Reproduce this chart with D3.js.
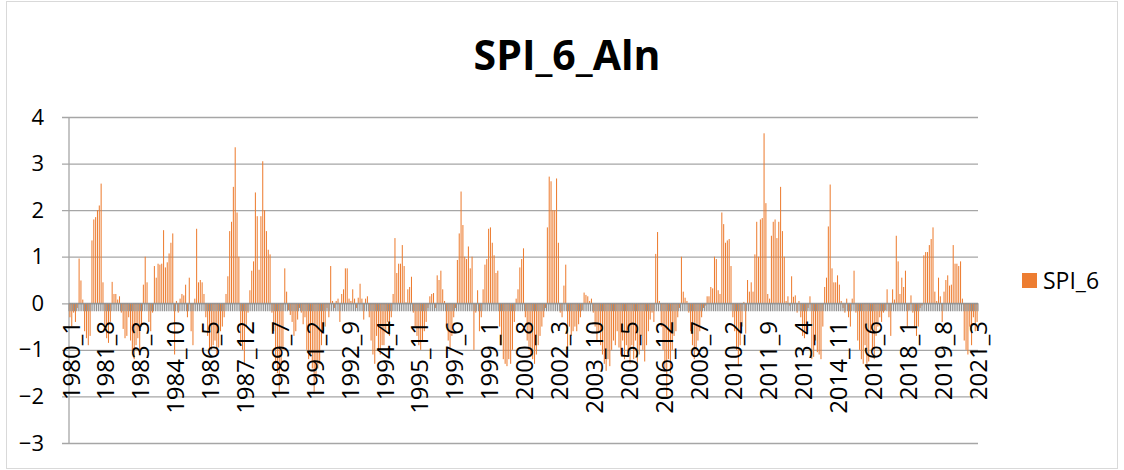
<!DOCTYPE html>
<html>
<head>
<meta charset="utf-8">
<script src="https://cdn.jsdelivr.net/npm/d3@7"></script>
<style>
  body { margin: 0; background: #fff; }
  svg { font-family: "Open Sans", "Noto Sans", sans-serif; }
</style>
</head>
<body>
<svg id="chart" width="1124" height="470"></svg>
<script>
// monthly SPI_6 values, 1980_1 .. 2021_3 (one row per 19 months)
var spi6 = [
  -0.3, -0.5, -0.2, -0.4, -0.1, 0.96, 0.49, 0.08, -0.6, -0.75, -0.9, -0.7, 1.35, 1.8, 1.85, 2.0, 2.1, 2.57, 0.45,
  -0.5, -0.75, -0.85, -0.4, 0.46, 0.2, 0.2, 0.08, 0.15, -0.2, -0.55, -0.75, -0.7, -0.3, -0.8, -1.0, -1.2, -0.9, -0.75,
  -1.1, -0.5, 0.4, 1.0, 0.45, -0.4, -0.6, -0.2, 0.8, 0.55, 0.85, 0.83, 0.85, 1.57, 0.77, 0.88, 1.07, 1.3, 1.5,
  -1.1, 0.05, -0.2, 0.1, 0.2, 0.17, 0.4, -0.3, 0.55, -0.6, -0.9, 0.1, 1.6, 0.45, 0.5, 0.45, 0.2, -0.3, -0.7,
  -1.0, -1.0, -0.9, -0.8, -1.1, -0.95, -0.6, -0.5, -0.3, 0.2, 0.58, 1.55, 1.75, 2.5, 3.35, 1.95, 1.0, -0.9, -1.0,
  -1.3, -0.5, -0.2, 0.28, 0.7, 0.9, 2.38, 1.87, 0.72, 1.87, 3.05, 2.0, 1.55, 1.15, 1.05, -0.2, -0.6, -1.3, -1.5,
  -1.9, -1.4, -1.0, 0.75, 0.25, -0.15, -0.25, -0.4, -0.7, -0.6, -0.35, -0.1, -0.2, -0.45, -0.3, -1.0, -1.2, -1.1, -1.4,
  -1.9, -1.6, -1.4, -1.3, -0.9, -0.6, -0.5, -0.1, -0.3, 0.8, 0.05, -0.1, 0.05, 0.1, -0.4, 0.2, 0.3, 0.75, 0.75,
  0.1, 0.05, 0.3, 0.1, -0.1, 0.12, 0.42, 0.1, -0.35, 0.1, 0.15, -0.3, -0.8, -1.1, -1.3, -0.7, -1.0, -1.1, -0.9,
  -0.9, -0.6, -0.4, -0.7, -0.3, 0.2, 1.4, 0.65, 0.85, 0.85, 1.25, 0.8, 0.02, 0.3, 0.35, 0.57, -0.2, -0.5, -0.7,
  -0.9, -1.0, -0.8, -0.6, -0.4, -0.1, 0.15, 0.2, 0.22, -0.1, 0.6, 0.5, 0.7, 0.3, 0.05, -0.5, -0.8, -1.0, -0.7,
  -0.3, -0.1, 0.93, 1.5, 2.4, 1.68, 1.0, 0.95, 1.22, 0.75, 1.0, -1.0, -0.2, 0.28, -0.6, -0.3, 0.3, 0.83, 0.95,
  1.6, 1.63, 1.3, 1.03, 0.65, 0.7, -0.5, -0.9, -1.2, -1.3, -1.35, -1.2, -1.3, -1.0, -0.4, 0.1, 0.3, 0.77, 0.95,
  1.18, -0.3, -0.8, -1.0, -1.15, -1.2, -1.3, -1.1, -0.9, -0.7, -0.5, -0.3, -0.1, 1.63, 2.72, 2.62, 2.0, 2.0, 2.68,
  1.3, -0.2, -0.3, 0.38, 0.83, -1.0, -0.5, -0.7, -0.6, -0.5, -0.6, -0.45, -0.3, -0.15, 0.23, 0.18, 0.15, 0.05, 0.1,
  -0.2, -0.5, -0.8, -0.6, -0.9, -1.1, -1.3, -1.45, -1.2, -1.35, -1.0, -0.8, -0.9, -0.6, -0.95, -1.1, -0.8, -1.2, -0.9,
  -1.0, -1.3, -0.9, -1.2, -0.8, -1.3, -1.1, -0.7, -1.0, -1.25, -0.9, -0.6, -0.35, -0.2, -0.4, 1.06, 1.53, 0.05, -0.5,
  -1.0, -1.4, -2.0, -1.2, -1.5, -1.0, -0.7, -0.6, -0.3, -0.1, 1.0, 0.25, 0.12, 0.05, -0.2, -0.6, -0.9, -1.2, -1.0,
  -0.8, -0.6, -0.3, -0.1, -0.05, 0.15, 0.15, 0.35, 0.32, 1.0, 0.95, 0.28, 0.2, 1.95, 1.7, 1.3, 1.35, 1.38, 0.8,
  -0.3, -0.6, -1.0, -1.35, -0.9, -0.5, 0.03, -0.65, 0.5, 0.25, 0.45, 0.25, 1.05, 1.75, 1.0, 1.8, 1.83, 3.65, 2.15,
  0.2, 0.1, 1.45, 1.75, 1.8, 1.4, 1.75, 2.5, 1.55, 1.0, 0.05, 0.15, -0.05, 0.58, 0.14, 0.17, -0.2, 0.05, -0.3,
  -0.7, -0.75, -0.6, -0.1, 0.15, -1.2, -1.15, -0.8, -1.05, -1.1, -1.2, -0.5, 0.35, 0.55, 1.65, 2.55, 0.75, 0.45, 0.45,
  0.6, 0.4, 0.05, -0.1, -0.2, 0.1, -0.3, -0.5, 0.1, 0.7, -0.2, -0.8, -1.0, -1.2, -1.3, -0.9, -1.3, -1.25, -0.6,
  -1.0, -1.2, -0.7, -0.5, -0.3, -0.4, -0.2, -0.15, 0.3, -0.3, -0.7, 0.3, 0.08, 1.45, 0.9, 0.2, 0.55, 0.35, 0.7,
  -0.5, -0.15, 0.17, -0.2, -0.5, -0.7, -0.5, -0.1, -0.05, 1.03, 1.1, 1.1, 1.25, 1.38, 1.63, 0.25, 0.05, 0.55, 0.15,
  -0.4, 0.25, 0.5, 0.6, 0.38, 0.4, 1.25, 0.85, 0.85, 0.8, 0.9, 0.1, -0.8, -1.0, -1.1, -0.5, -0.9, -0.3, -0.6,
  -0.4
]

var startYear = 1980
var labelEvery = 19
var yTicks = [-3, -2, -1, 0, 1, 2, 3, 4]

// category names like 1980_1
var months = spi6.map(function(d, i) {
  return (startYear + Math.floor(i / 12)) + '_' + (i % 12 + 1)
})
var tickLabels = months.filter(function(d, i) { return i % labelEvery == 0 })

var svg = d3.select('#chart')

// chart border
svg.append('rect')
  .attr('x', 6.5).attr('y', 1.5)
  .attr('width', 1111).attr('height', 467)
  .attr('fill', 'none').attr('stroke', '#d9d9d9')

var left = 69, right = 978

var x = d3.scaleBand()
  .domain(months)
  .range([left, right])
  .padding(0)

var y = d3.scaleLinear()
  .domain([-3, 4])
  .range([443, 117])

// title
svg.append('text')
  .attr('x', 567).attr('y', 70)
  .attr('text-anchor', 'middle')
  .style('font-size', '41px').style('font-weight', 'bold')
  .text('SPI_6_Aln')

// gridlines + y labels
var yAxis = svg.append('g')
  .attr('transform', 'translate(' + (left - 7) + ',0)')
  .call(d3.axisLeft(y).tickValues(yTicks).tickSize(-(right - left + 7)).tickPadding(18).tickFormat(d3.format('d')))
yAxis.select('.domain').remove()
yAxis.selectAll('line').attr('stroke', '#a6a6a6').attr('stroke-width', 1.3)
yAxis.selectAll('text')
  .style('font-size', '22px').style('font-family', '"Open Sans", sans-serif')
  .attr('fill', '#000')

// value axis line
svg.append('line')
  .attr('x1', left).attr('x2', left)
  .attr('y1', y(4)).attr('y2', y(-3))
  .attr('stroke', '#a6a6a6').attr('stroke-width', 1.3)

// bars
var bw = x.bandwidth()
svg.append('g')
  .selectAll('rect')
  .data(spi6).enter().append('rect')
    .attr('x', function(d, i) { return x(months[i]) + bw * 0.22 })
    .attr('width', bw * 0.56)
    .attr('y', function(d) { return y(Math.max(0, d)) })
    .attr('height', function(d) { return Math.abs(y(d) - y(0)) })
    .attr('fill', '#ED7D31')

// category axis: line and one tick per month boundary
var axisG = svg.append('g')
axisG.append('line')
  .attr('x1', left).attr('x2', right)
  .attr('y1', y(0)).attr('y2', y(0))
  .attr('stroke', '#999').attr('stroke-width', 1.3)
axisG.selectAll('.tick')
  .data(d3.range(months.length + 1)).enter().append('line')
    .attr('class', 'tick')
    .attr('x1', function(i) { return left + i * bw })
    .attr('x2', function(i) { return left + i * bw })
    .attr('y1', y(0)).attr('y2', y(0) + 8)
    .attr('stroke', '#8f8f8f').attr('stroke-width', 1.1)

axisG.selectAll('.xlab')
  .data(tickLabels).enter().append('text')
    .attr('class', 'xlab')
    .attr('transform', function(d) {
      return 'translate(' + (x(d) + bw / 2 + 1) + ',321) rotate(-90)'
    })
    .attr('text-anchor', 'end')
    .attr('dy', '0.36em')
    .style('font-size', '24px')
    .text(function(d) { return d })

// legend
svg.append('rect')
  .attr('x', 1022).attr('y', 273)
  .attr('width', 15).attr('height', 15)
  .attr('fill', '#ED7D31')
svg.append('text')
  .attr('x', 1043).attr('y', 289)
  .style('font-size', '23px')
  .text('SPI_6')
</script>
</body>
</html>
